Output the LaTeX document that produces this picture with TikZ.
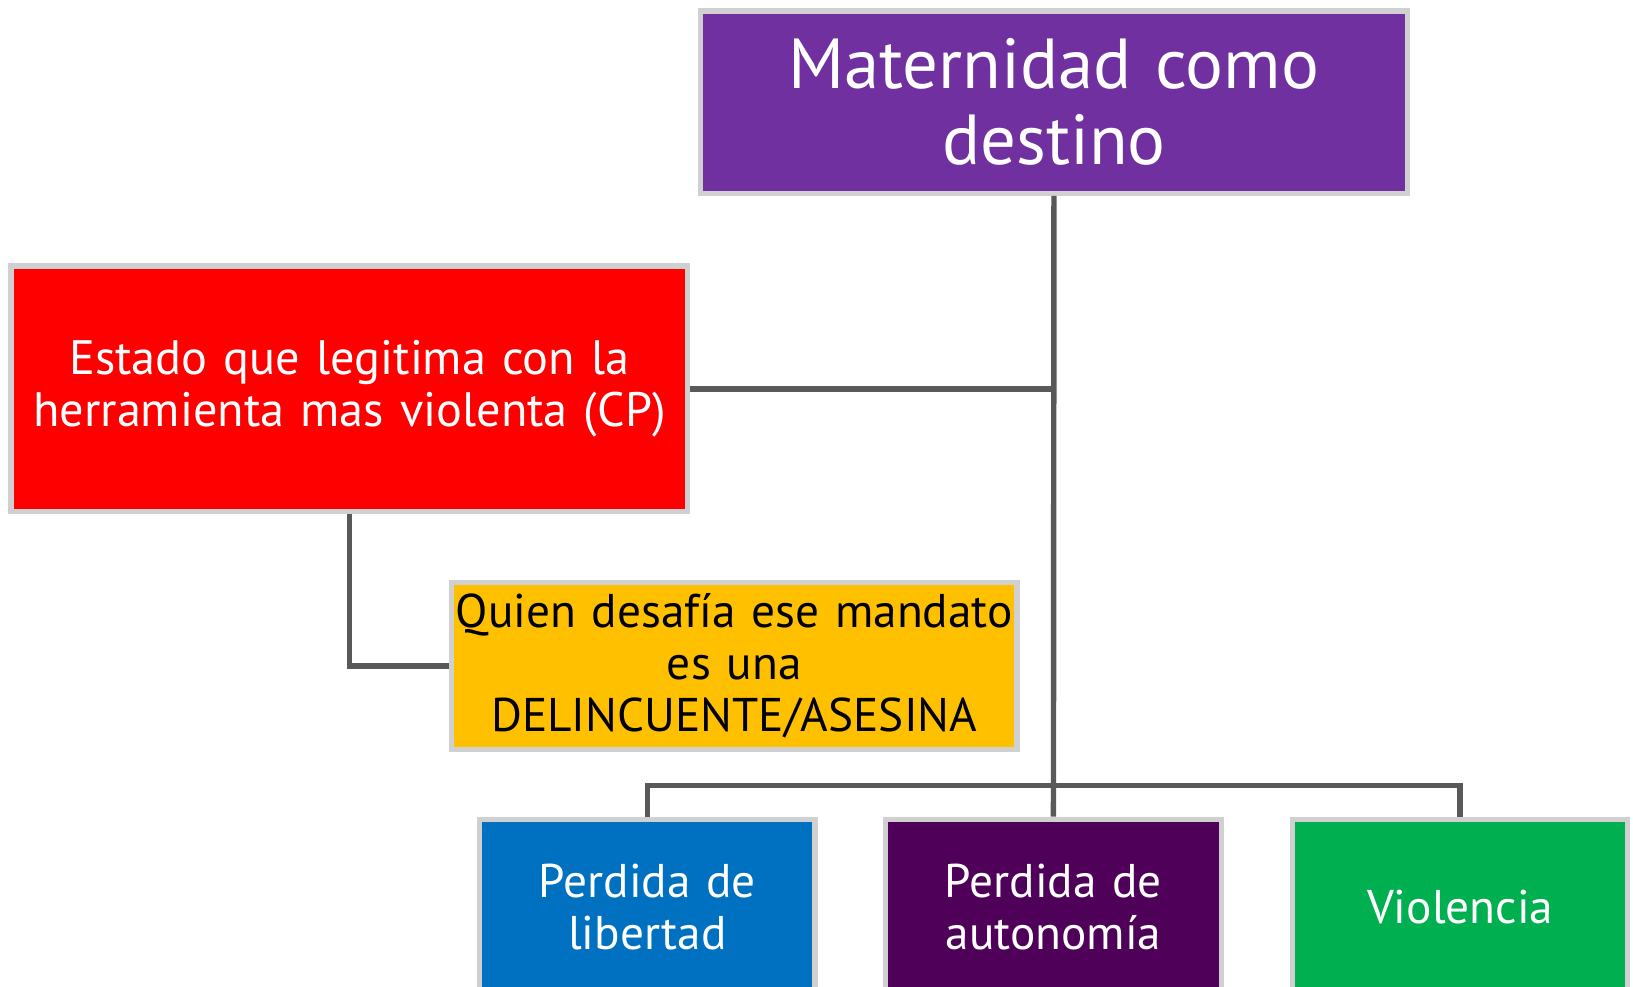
\documentclass[tikz,border=0pt]{standalone}
\usepackage{fontspec}
\setmainfont{PT Sans}
\definecolor{lineg}{HTML}{595959}
\definecolor{bordg}{HTML}{D0D0D0}
\definecolor{cTitle}{HTML}{7030A0}
\definecolor{cRed}{HTML}{FF0000}
\definecolor{cYel}{HTML}{FFC000}
\definecolor{cBlue}{HTML}{0070C0}
\definecolor{cPurp}{HTML}{4F0058}
\definecolor{cGreen}{HTML}{00B050}
\begin{document}
\begin{tikzpicture}[x=0.5pt,y=-0.5pt,
  boxst/.style={draw=bordg,line width=2.5pt,rectangle,align=center,text=white,inner sep=0pt},
  conn/.style={draw=lineg,line width=2.6pt},
  bodyfont/.style={font=\fontsize{22.7}{25}\selectfont}]
\path[use as bounding box] (0,0) rectangle (1568,947);
\node[boxst,fill=cTitle,minimum width=339.5pt,minimum height=87.5pt,text width=330pt,font=\fontsize{34}{36.5}\selectfont] (title) at (1012,98) {Maternidad como\\destino};
\node[boxst,fill=cRed,minimum width=325pt,minimum height=118pt,text width=320pt,font=\fontsize{23.2}{25}\selectfont] (red) at (335.5,373.5) {Estado que legitima con la\\herramienta mas violenta (CP)};
\node[boxst,fill=cYel,text=black,minimum width=271.5pt,minimum height=80pt,text width=270pt,bodyfont] (yel) at (705,639.5) {Quien desafía ese mandato\\es una\\DELINCUENTE/ASESINA};
\node[boxst,fill=cBlue,minimum width=161pt,minimum height=84pt,text width=155pt,bodyfont] (blue) at (621.5,870.5) {Perdida de\\libertad};
\node[boxst,fill=cPurp,minimum width=161pt,minimum height=84pt,text width=155pt,bodyfont] (purp) at (1011.5,870.5) {Perdida de\\autonomía};
\node[boxst,fill=cGreen,minimum width=161pt,minimum height=84pt,text width=155pt,bodyfont] (green) at (1402,870.5) {Violencia};
\coordinate (bus) at (1012,754);
\draw[conn] (title.south) -- (purp.north);
\draw[conn] (red.east) -- (red.east -| title.south);
\draw[conn] (red.south) |- (yel.west);
\draw[conn] (blue.north) |- (bus) -| (green.north);
\end{tikzpicture}
\end{document}
